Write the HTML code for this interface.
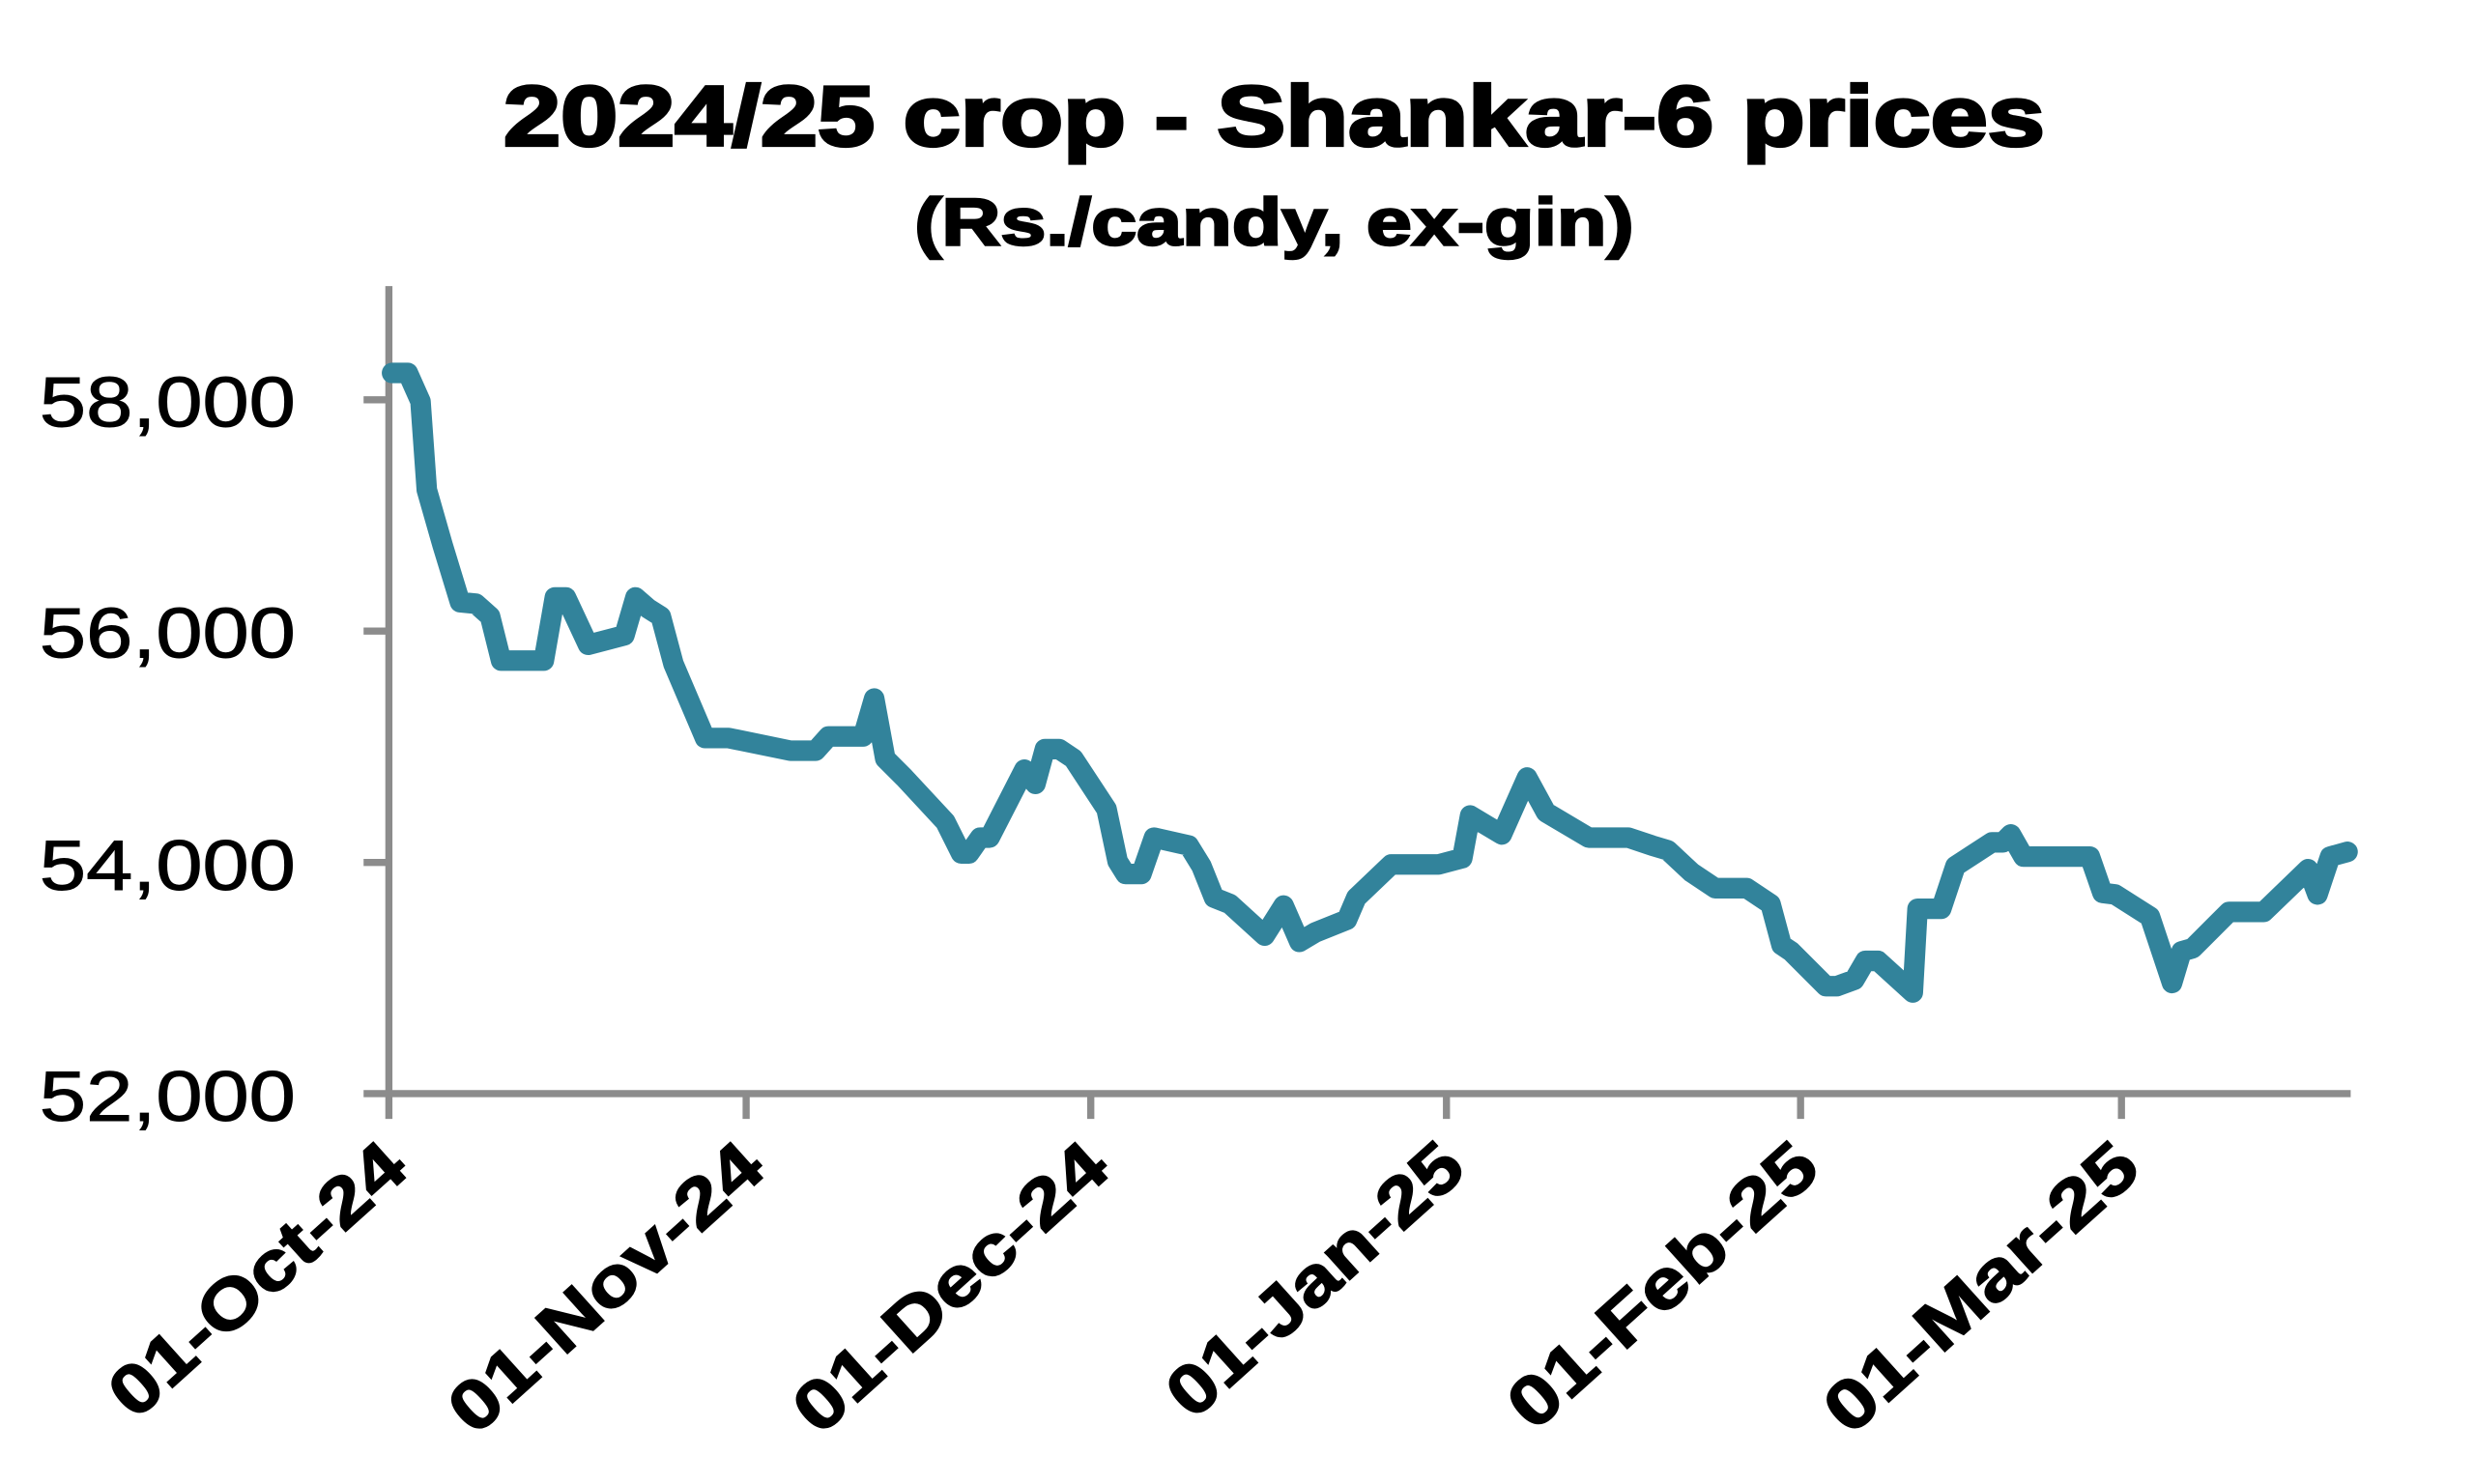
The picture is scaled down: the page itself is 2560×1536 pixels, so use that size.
<!DOCTYPE html>
<html><head><meta charset="utf-8"><style>
html,body{margin:0;padding:0;background:#fff;}
svg{display:block;}
text{font-family:"Liberation Sans",sans-serif;fill:#000;}
</style></head><body>
<svg width="2560" height="1536" viewBox="0 0 1565 939" xmlns="http://www.w3.org/2000/svg">
<rect width="1565" height="939" fill="#fff"/>
<text x="806" y="92" text-anchor="middle" font-size="54" font-weight="bold" stroke="#000" stroke-width="2" textLength="975" lengthAdjust="spacingAndGlyphs">2024/25 crop - Shankar-6 prices</text>
<text x="806" y="155" text-anchor="middle" font-size="42" font-weight="bold" stroke="#000" stroke-width="1.5" textLength="455" lengthAdjust="spacingAndGlyphs">(Rs./candy, ex-gin)</text>
<g stroke="#8c8c8c" stroke-width="4.5" fill="none">
<line x1="246" y1="181" x2="246" y2="708"/>
<line x1="230" y1="692" x2="1487" y2="692"/>
<line x1="230" y1="253" x2="246" y2="253"/>
<line x1="230" y1="399.3" x2="246" y2="399.3"/>
<line x1="230" y1="545.7" x2="246" y2="545.7"/>
<line x1="472" y1="692" x2="472" y2="708"/>
<line x1="690" y1="692" x2="690" y2="708"/>
<line x1="915" y1="692" x2="915" y2="708"/>
<line x1="1139" y1="692" x2="1139" y2="708"/>
<line x1="1342" y1="692" x2="1342" y2="708"/>
</g>
<g font-size="45" text-anchor="end" stroke="#000" stroke-width="0.6">
<text x="187" y="270" textLength="162" lengthAdjust="spacingAndGlyphs">58,000</text>
<text x="187" y="416" textLength="162" lengthAdjust="spacingAndGlyphs">56,000</text>
<text x="187" y="563" textLength="162" lengthAdjust="spacingAndGlyphs">54,000</text>
<text x="187" y="709" textLength="162" lengthAdjust="spacingAndGlyphs">52,000</text>
</g>
<g font-size="44" font-weight="bold" text-anchor="end" stroke="#000" stroke-width="1">
<text transform="translate(260,742) rotate(-42)" textLength="235" lengthAdjust="spacingAndGlyphs">01-Oct-24</text>
<text transform="translate(486,742) rotate(-42)" textLength="250" lengthAdjust="spacingAndGlyphs">01-Nov-24</text>
<text transform="translate(704,742) rotate(-42)" textLength="250" lengthAdjust="spacingAndGlyphs">01-Dec-24</text>
<text transform="translate(929,742) rotate(-42)" textLength="235" lengthAdjust="spacingAndGlyphs">01-Jan-25</text>
<text transform="translate(1153,742) rotate(-42)" textLength="246" lengthAdjust="spacingAndGlyphs">01-Feb-25</text>
<text transform="translate(1356,742) rotate(-42)" textLength="250" lengthAdjust="spacingAndGlyphs">01-Mar-25</text>
</g>
<polyline fill="none" stroke="#32839b" stroke-width="13" stroke-linejoin="round" stroke-linecap="round" points="248,236 258,236 266,254 270,310 280,345 291,381 301,382 310,390 317,418 344,418 351,378 358,378 372,408 395,402 402,378 410,385 418,390 426,420 446,467 461,467 500,475 516,475 524,466 546,466 553,442 560,480 572,492 598,520 608,540 613,540 620,530 626,530 648,487 655,496 661,474 670,474 679,480 700,512 707,545 712,553 722,553 730,530 752,535 760,548 768,568 778,572 800,592 812,573 822,596 832,590 852,582 858,568 880,547 910,547 925,543 930,516 950,528 966,492 978,514 1005,530 1030,530 1045,535 1055,538 1070,552 1085,562 1105,562 1120,572 1127,598 1133,602 1155,624 1162,624 1173,620 1180,608 1188,608 1210,628 1213,575 1228,575 1237,548 1260,533 1267,533 1272,528 1280,542 1322,542 1330,565 1338,566 1360,580 1374,622 1380,602 1387,600 1410,577 1432,577 1460,550 1466,566 1474,542 1485,539"/>
</svg>
</body></html>
